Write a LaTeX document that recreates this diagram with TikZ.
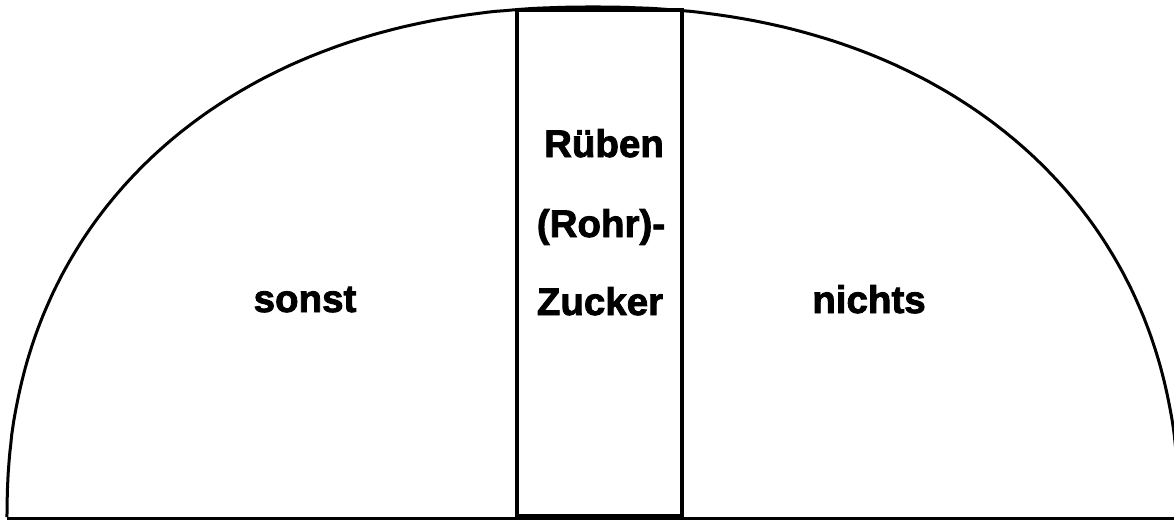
\documentclass[tikz,border=0pt]{standalone}
\usepackage{fontspec}
\setmainfont{Liberation Sans}
\newfontfamily\heavyfont[FakeBold=2.2]{Liberation Sans Bold}
\tikzset{
  arcline/.style={line width=3pt, line join=round},
  baseline/.style={line width=3pt},
  centerbox/.style={line width=4.5pt},
  label/.style={font=\fontsize{38.5}{39}\heavyfont, anchor=base, inner sep=0pt}
}
\begin{document}
\begin{tikzpicture}[x=1pt,y=-1pt]
\useasboundingbox (0,0) rectangle (1174,522);
\clip (0,0) rectangle (1174,522);
% dome outline (superellipse)
\draw[arcline] plot[domain=0.05:179.95, samples=240]
  ({593 - 586*sign(cos(\x))*pow(abs(cos(\x)),2/2.2)},
   {518 - 511*pow(abs(sin(\x)),2/2.2)});
% ground line
\coordinate (gl) at (7,518);
\coordinate (gr) at (1174,518);
\draw[baseline] (gl) -- (gr);
% central column
\draw[centerbox] (517,10) rectangle (682,516);
% labels
\node[label] (sonst) at (305,312) {sonst};
\node[label] (nichts) at (869,313) {nichts};
\node[label] (rueben) at (604,157) {Rüben};
\node[label] (rohr) at (601,237) {(Rohr)-};
\node[label] (zucker) at (600,315) {Zucker};
\end{tikzpicture}
\end{document}
